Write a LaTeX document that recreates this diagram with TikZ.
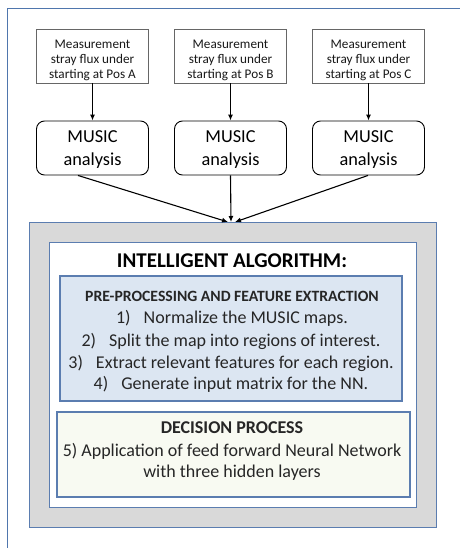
\documentclass[tikz,border=0pt]{standalone}
\usepackage{fontspec}
\setmainfont{Carlito}
\usetikzlibrary{arrows.meta}
\definecolor{frameblue}{HTML}{4F76AD}
\definecolor{boxblue}{HTML}{5B7DB0}
\definecolor{grayfill}{HTML}{D9D9D9}
\definecolor{lightblue}{HTML}{DCE6F2}
\definecolor{ivory}{HTML}{F8FAF2}
\begin{document}
\begin{tikzpicture}[x=1pt,y=-1pt,
  inbox/.style={draw=black!60,line width=0.7pt,fill=white,inner sep=0pt,minimum width=112pt,minimum height=54pt},
  intext/.style={font=\fontsize{13.2}{15}\selectfont,anchor=base,inner sep=0pt,text=black!90},
  musicbox/.style={draw=black,line width=0.9pt,rounded corners=8pt,fill=white,inner sep=0pt,minimum width=112pt,minimum height=54pt},
  mtext/.style={font=\fontsize{18.3}{22}\selectfont,anchor=base,inner sep=0pt},
  conn/.style={draw=black,line width=1.1pt,-{Latex[length=6pt,width=5pt]}},
  numline/.style={font=\fontsize{18}{22}\selectfont,text=black!85,anchor=base,inner sep=0pt},
]
\useasboundingbox (0,0) rectangle (460,548);
% outer frame (open to right and bottom)
\draw[frameblue,line width=1pt] (7,548) -- (7,9) -- (460,9);
% input boxes
\node[inbox] (inA) at (92.5,56) {};
\node[inbox] (inB) at (230.5,56) {};
\node[inbox] (inC) at (368.5,56) {};
\foreach \n/\x/\p in {inA/92.5/A,inB/230.5/B,inC/368.5/C}{
  \node[intext] (\n t1) at (\x,48.5) {Measurement};
  \node[intext] (\n t2) at (\x,63.5) {stray flux under};
  \node[intext] (\n t3) at (\x,78.5) {starting at Pos \p};
}
% MUSIC boxes
\node[musicbox] (mA) at (92.5,148) {};
\node[musicbox] (mB) at (230.5,148) {};
\node[musicbox] (mC) at (368.5,148) {};
\foreach \n/\x in {mA/92.5,mB/230.5,mC/368.5}{
  \node[mtext] (\n t1) at (\x,143) {MUSIC};
  \node[mtext] (\n t2) at (\x,165) {analysis};
}
% big gray box, inner white box
\node[draw=boxblue,line width=1pt,fill=grayfill,minimum width=407pt,minimum height=305pt,inner sep=0pt] (gray) at (232.5,374.5) {};
\node[draw=boxblue,line width=1pt,fill=white,minimum width=367pt,minimum height=265pt,inner sep=0pt] (white) at (232.5,374.5) {};
\node[font=\fontsize{21}{22}\selectfont\bfseries,anchor=base,inner sep=0pt] (title) at (232,267) {INTELLIGENT ALGORITHM:};
% pre-processing box
\node[draw=boxblue,line width=1.2pt,fill=lightblue,minimum width=342pt,minimum height=125pt,inner sep=0pt] (pre) at (231,338.5) {};
\node[font=\fontsize{15.7}{17}\selectfont\bfseries,text=black!85,anchor=base,inner sep=0pt] (preT) at (232,301) {PRE-PROCESSING AND FEATURE EXTRACTION};
\node[numline] (s1) at (232,323) {1)\hspace{13pt}Normalize the MUSIC maps.};
\node[numline] (s2) at (231,346) {2)\hspace{13pt}Split the map into regions of interest.};
\node[numline] (s3) at (231,368) {3)\hspace{13pt}Extract relevant features for each region.};
\node[numline] (s4) at (231,389) {4)\hspace{13pt}Generate input matrix for the NN.};
% decision box
\node[draw=boxblue,line width=1.2pt,fill=ivory,minimum width=353pt,minimum height=85pt,inner sep=0pt] (dec) at (233.5,454.5) {};
\node[font=\fontsize{18}{20}\selectfont\bfseries,text=black!85,anchor=base,inner sep=0pt] (decT) at (232,433) {DECISION PROCESS};
\node[numline] (d1) at (232,456) {5) Application of feed forward Neural Network};
\node[numline] (d2) at (232,477) {with three hidden layers};
% connectors
\draw[conn] (inA.south) -- (mA.north);
\draw[conn] (inB.south) -- (mB.north);
\draw[conn] (inC.south) -- (mC.north);
\coordinate (tipL) at (228,222);
\coordinate (tipC) at (231,222);
\coordinate (tipR) at (235,222);
\draw[conn] (mA.south -| 78,0) -- (tipL);
\draw[conn] (mB.south) -- (tipC);
\draw[conn] (mC.south -| 368,0) -- (tipR);
\end{tikzpicture}
\end{document}
